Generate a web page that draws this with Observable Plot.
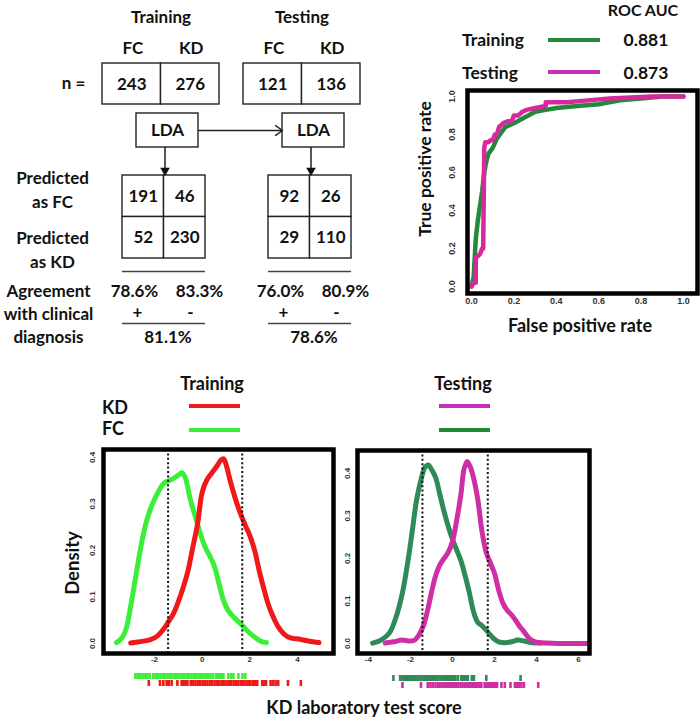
<!DOCTYPE html>
<html><head><meta charset="utf-8">
<script src="https://cdn.jsdelivr.net/npm/d3@7"></script>
<script src="https://cdn.jsdelivr.net/npm/@observablehq/plot@0.6"></script>
<style>
body{margin:0;background:#fff;}
#root{position:relative;width:700px;height:719px;overflow:hidden;font-family:Lato,"Open Sans",sans-serif;font-weight:700;color:#111;}
.t{position:absolute;transform:translate(-50%,-50%);white-space:nowrap;font-weight:700;line-height:1;}
.sw{position:absolute;height:4px;}
#root svg{position:absolute;background:transparent;max-width:none;overflow:visible;}
</style></head><body><div id="root"></div>
<script>
// ---------------- data ----------------
const sets = ["Training", "Testing"];
const classes = ["FC", "KD"];
const nCounts = [[243, 276], [121, 136]];
const confusion = [[[191, 46], [52, 230]], [[92, 26], [29, 110]]];
const agreement = [["78.6%", "83.3%"], ["76.0%", "80.9%"]];
const agreeSign = ["+", "-"];
const overall = ["81.1%", "78.6%"];
const rowLabels = [["Predicted", "as FC"], ["Predicted", "as KD"]];
const agreeLabel = ["Agreement", "with clinical", "diagnosis"];

const rocAUC = ["0.881", "0.873"];
const rocTrainFpr = [0,0.01,0.02,0.03,0.05,0.06,0.07,0.08,0.1,0.12,0.14,0.16,0.2,0.25,0.3,0.35,0.4,0.5,0.6,0.7,0.8,0.9,1.0];
const rocTrainTpr = [0,0.05,0.25,0.35,0.5,0.6,0.66,0.7,0.73,0.78,0.81,0.84,0.86,0.89,0.92,0.93,0.94,0.95,0.96,0.98,0.99,1.0,1.0];
const rocTestFpr = [0,0.01,0.02,0.02,0.04,0.05,0.055,0.06,0.065,0.08,0.09,0.1,0.11,0.12,0.13,0.14,0.15,0.17,0.19,0.2,0.22,0.24,0.26,0.3,0.35,0.35,0.45,0.55,0.65,0.75,0.85,1.0];
const rocTestTpr = [0,0.02,0.02,0.15,0.17,0.2,0.2,0.73,0.76,0.76,0.77,0.77,0.8,0.8,0.84,0.85,0.86,0.87,0.87,0.9,0.9,0.92,0.93,0.94,0.95,0.97,0.97,0.98,0.99,0.995,1.0,1.0];
const rocTicks = [0, 0.2, 0.4, 0.6, 0.8, 1.0];

const trainFCx = [-3.6,-3.4,-3.2,-3.0,-2.8,-2.6,-2.4,-2.2,-2.0,-1.8,-1.6,-1.4,-1.2,-1.0,-0.85,-0.7,-0.5,-0.3,-0.1,0.1,0.3,0.5,0.7,0.9,1.1,1.3,1.5,1.7,1.9,2.1,2.3,2.5,2.7];
const trainFCy = [0.002,0.01,0.03,0.08,0.14,0.2,0.25,0.285,0.31,0.33,0.345,0.35,0.355,0.362,0.367,0.355,0.31,0.275,0.24,0.21,0.19,0.168,0.13,0.092,0.07,0.058,0.048,0.038,0.027,0.018,0.01,0.004,0.002];
const trainKDx = [-3.0,-2.6,-2.2,-2.0,-1.8,-1.6,-1.4,-1.2,-1.0,-0.8,-0.6,-0.4,-0.2,0.0,0.2,0.4,0.6,0.8,0.9,1.0,1.2,1.4,1.6,1.8,2.0,2.2,2.4,2.6,2.8,3.0,3.2,3.4,3.6,3.8,4.0,4.2,4.5,4.9];
const trainKDy = [0.001,0.004,0.008,0.012,0.02,0.032,0.048,0.065,0.09,0.12,0.155,0.205,0.255,0.325,0.352,0.366,0.38,0.395,0.397,0.385,0.345,0.31,0.28,0.255,0.232,0.2,0.155,0.115,0.08,0.055,0.035,0.022,0.014,0.011,0.01,0.008,0.005,0.002];
const testFCx = [-3.8,-3.4,-3.0,-2.7,-2.4,-2.1,-1.9,-1.7,-1.5,-1.3,-1.15,-1.0,-0.8,-0.6,-0.4,-0.2,0.0,0.2,0.4,0.6,0.8,1.0,1.2,1.4,1.6,1.8,2.0,2.2,2.5,2.8,3.1,3.4,3.8,4.2];
const testFCy = [0.001,0.008,0.025,0.06,0.115,0.2,0.27,0.34,0.385,0.415,0.42,0.41,0.39,0.35,0.31,0.275,0.245,0.22,0.195,0.16,0.12,0.075,0.05,0.042,0.032,0.02,0.01,0.004,0.002,0.004,0.008,0.006,0.002,0.001];
const testKDx = [-3.2,-2.8,-2.4,-2.1,-1.8,-1.6,-1.4,-1.2,-1.0,-0.8,-0.6,-0.4,-0.2,0.0,0.2,0.4,0.55,0.7,0.85,1.0,1.2,1.4,1.6,1.8,2.0,2.2,2.4,2.6,2.8,3.0,3.2,3.4,3.6,3.8,4.0,4.5,5.0,6.5];
const testKDy = [0.001,0.004,0.008,0.006,0.008,0.02,0.04,0.075,0.12,0.16,0.185,0.2,0.215,0.24,0.29,0.35,0.41,0.428,0.415,0.39,0.34,0.265,0.215,0.19,0.165,0.125,0.095,0.078,0.068,0.055,0.04,0.028,0.015,0.007,0.003,0.001,0,0];

const cutoffs = [-1.43, 1.68];
const trainXTicks = [-2, 0, 2, 4];
const testXTicks = [-4, -2, 0, 2, 4, 6];
const densYTicks = [0, 0.1, 0.2, 0.3, 0.4];

const trainFCRug = [-2.8,-2.7,-2.6,-2.5,-2.4,-2.3,-2.2,-2.05,-1.95,-1.85,-1.75,-1.65,-1.55,-1.45,-1.35,-1.25,-1.15,-1.05,-0.95,-0.85,-0.75,-0.65,-0.55,-0.45,-0.35,-0.25,-0.15,-0.05,0.05,0.15,0.25,0.35,0.45,0.58,0.66,0.74,0.82,0.89,1.1,1.22,1.31,1.52,1.69,1.81];
const trainKDRug = [-2.24,-1.77,-1.63,-1.49,-1.4,-1.28,-1.04,-0.86,-0.78,-0.7,-0.62,-0.48,-0.38,-0.28,-0.18,-0.08,0.02,0.12,0.22,0.32,0.42,0.52,0.62,0.72,0.82,0.92,1.02,1.12,1.22,1.32,1.42,1.52,1.62,1.72,1.82,1.92,2.02,2.12,2.22,2.31,2.52,2.6,2.68,2.87,2.97,3.08,3.19,3.6,4.14];
const testFCRug = [-2.81,-2.49,-2.38,-2.3,-2.22,-2.14,-2.06,-1.98,-1.87,-1.77,-1.67,-1.57,-1.47,-1.37,-1.27,-1.17,-1.07,-0.97,-0.87,-0.77,-0.67,-0.57,-0.47,-0.37,-0.27,-0.17,-0.07,0.03,0.13,0.25,0.41,0.49,0.57,0.65,0.73,0.92,1.02,1.61,3.24];
const testKDRug = [-2.38,-1.5,-1.18,-1.05,-0.94,-0.81,-0.7,-0.62,-0.52,-0.42,-0.32,-0.22,-0.12,-0.02,0.08,0.18,0.28,0.38,0.48,0.58,0.68,0.78,0.88,0.98,1.08,1.18,1.28,1.37,1.53,1.61,1.69,1.77,1.85,1.93,2.01,2.12,2.33,2.49,2.76,2.97,3.08,3.18,3.28,3.4,4.08];

// ---------------- styles ----------------
const C = {
  rocTrain: "#22893a", rocTest: "#d8299c",
  trainFC: "#3aee3a", trainKD: "#f01818",
  testFC: "#2e8b57", testKD: "#cf2fa4",
  legTestKD: "#c231b8", legTestFC: "#1f8a32"
};
const FONT = "Lato, 'Open Sans', sans-serif";
const TICKFONT = "'Liberation Sans', Arial, sans-serif";
const root = document.getElementById("root");
function put(node, left, top) { node.style.left = left + "px"; node.style.top = top + "px"; root.appendChild(node); return node; }
function label(text, x, y, size, opt = {}) {
  const d = document.createElement("div");
  d.className = "t"; d.textContent = text; d.style.fontSize = size + "px";
  if (opt.rotate) d.style.transform = `translate(-50%,-50%) rotate(${opt.rotate}deg)`;
  if (opt.left) d.style.transform = "translate(0,-50%)";
  put(d, x, y);
}
function swatch(color, x1, x2, y) {
  const d = document.createElement("div"); d.className = "sw";
  d.style.background = color; d.style.width = (x2 - x1) + "px";
  put(d, x1, y - 2);
}
const zip = (xs, ys) => xs.map((x, i) => ({x, y: ys[i]}));

// ---------------- diagram (layout in pixels) ----------------
const L = {
  Training: {n: 102, m: 122, lda: 136},
  Testing: {n: 243, m: 268, lda: 282}
};
const nW = 58.5, mW = 41.5, ldaW = 62;
const rects = [], texts = [], hrules = [], downArrows = [];
const rowLabelY = [[178, 202], [238, 262]];
sets.forEach((s, si) => {
  const c = L[s];
  texts.push({x: c.n + nW, y: 17, t: s});
  classes.forEach((k, j) => {
    texts.push({x: c.n + nW * (j + 0.5) + 1, y: 48, t: k});
    rects.push({x1: c.n + j * nW, x2: c.n + (j + 1) * nW, y1: 63, y2: 104});
    texts.push({x: c.n + nW * (j + 0.5), y: 84, t: String(nCounts[si][j])});
  });
  rects.push({x1: c.lda, x2: c.lda + ldaW, y1: 113, y2: 147});
  texts.push({x: c.lda + ldaW / 2, y: 130, t: "LDA"});
  downArrows.push({x: c.m + mW + 1, y1: 147, y2: 170});
  confusion[si].forEach((row, i) => row.forEach((v, j) => {
    rects.push({x1: c.m + j * mW, x2: c.m + (j + 1) * mW, y1: 175 + i * mW, y2: 175 + (i + 1) * mW});
    texts.push({x: c.m + mW * (j + 0.5), y: 196 + i * mW, t: String(v)});
  }));
  hrules.push({x1: c.m, x2: c.m + 2 * mW, y: 271});
  hrules.push({x1: c.m, x2: c.m + 2 * mW, y: 323});
  agreement[si].forEach((a, j) => {
    texts.push({x: c.m + (j === 0 ? 12 : 77), y: 291, t: a});
    texts.push({x: c.m + (j === 0 ? 15 : 68), y: 312, t: agreeSign[j]});
  });
  texts.push({x: c.m + mW + 4, y: 337, t: overall[si]});
});
rowLabels.forEach((pair, i) => pair.forEach((t, k) => texts.push({x: 52, y: rowLabelY[i][k], t})));
agreeLabel.forEach((t, k) => texts.push({x: 48, y: 291 + k * 23, t}));
texts.push({x: 73, y: 83, t: "n ="});

const diagram = Plot.plot({
  width: 390, height: 350, margin: 0,
  x: {type: "identity", axis: null}, y: {type: "identity", axis: null},
  marks: [
    Plot.rect(rects, {x1: "x1", x2: "x2", y1: "y1", y2: "y2", fill: "white", stroke: "#222", strokeWidth: 1.4}),
    Plot.ruleY(hrules, {x1: "x1", x2: "x2", y: "y", stroke: "#444", strokeWidth: 1.4}),
    Plot.arrow([{a: L.Training.lda + ldaW, b: L.Testing.lda}], {x1: "a", x2: "b", y1: () => 130, y2: () => 130, stroke: "#222", strokeWidth: 1.4, headLength: 9, headAngle: 70}),
    Plot.ruleX(downArrows, {x: "x", y1: "y1", y2: "y2", stroke: "#111", strokeWidth: 1.4}),
    Plot.dot(downArrows, {x: "x", y: "y2", symbol: "triangle", rotate: 180, r: 3.6, fill: "#111"}),
    Plot.text(texts, {x: "x", y: "y", text: "t", fontSize: 17, fontWeight: "bold", fontFamily: FONT, fill: "#111"})
  ]
});
put(diagram, 0, 0);

// ---------------- ROC ----------------
const roc = Plot.plot({
  width: 300, height: 260,
  marginTop: 10, marginBottom: 47, marginLeft: 67, marginRight: 3,
  x: {domain: [-0.019, 1.066], axis: null},
  y: {domain: [-0.037, 1.032], axis: null},
  marks: [
    Plot.line(zip(rocTrainFpr, rocTrainTpr), {x: "x", y: "y", stroke: C.rocTrain, strokeWidth: 4.5}),
    Plot.line(zip(rocTestFpr, rocTestTpr), {x: "x", y: "y", stroke: C.rocTest, strokeWidth: 4.5}),
    Plot.frame({stroke: "black", strokeWidth: 4.5}),
    Plot.text(rocTicks, {x: d => d, text: d3.format(".1f"), frameAnchor: "bottom", dy: 10, fontSize: 9, fontFamily: TICKFONT, fill: "#333"}),
    Plot.text(rocTicks, {y: d => d, text: d3.format(".1f"), frameAnchor: "left", dx: -15, rotate: -90, textAnchor: "middle", fontSize: 9, fontFamily: TICKFONT, fill: "#333"})
  ]
});
put(roc, 400, 80);
label("ROC AUC", 643, 10, 16);
label(sets[0], 493, 40, 17.5);
label(sets[1], 490, 73, 17.5);
swatch(C.rocTrain, 548, 600, 40);
swatch(C.legTestKD, 548, 600, 72);
label(rocAUC[0], 646, 40, 17.5);
label(rocAUC[1], 646, 73, 17.5);
label("True positive rate", 425, 169, 17.5, {rotate: -90});
label("False positive rate", 580, 325, 18);

// ---------------- densities ----------------
function density(opts) {
  return Plot.plot({
    width: opts.width, height: 260,
    marginTop: opts.mt, marginBottom: 47, marginLeft: opts.ml, marginRight: opts.mr,
    x: {domain: opts.xd, axis: null},
    y: {domain: opts.yd, axis: null},
    marks: [
      Plot.line(opts.a, {x: "x", y: "y", stroke: opts.ca, strokeWidth: 5, curve: "catmull-rom", strokeLinecap: "round"}),
      Plot.line(opts.b, {x: "x", y: "y", stroke: opts.cb, strokeWidth: 5, curve: "catmull-rom", strokeLinecap: "round"}),
      Plot.ruleX(cutoffs, {stroke: "#111", strokeWidth: 2, strokeDasharray: "2,2.4"}),
      Plot.frame({stroke: "black", strokeWidth: 4.5}),
      Plot.text(opts.xt, {x: d => d, text: d => String(d), frameAnchor: "bottom", dy: 8, fontSize: 8, fontFamily: TICKFONT, fill: "#333"}),
      Plot.text(densYTicks, {y: d => d, text: d3.format(".1f"), frameAnchor: "left", dx: opts.ydx, rotate: -90, textAnchor: "middle", fontSize: 8, fontFamily: TICKFONT, fill: "#333"})
    ]
  });
}
function rug(opts) {
  const data = [...opts.a.map(v => ({v, g: classes[0]})), ...opts.b.map(v => ({v, g: classes[1]}))];
  return Plot.plot({
    width: opts.width, height: 19,
    marginTop: 2, marginBottom: 2, marginLeft: opts.ml, marginRight: opts.mr,
    x: {domain: opts.xd, axis: null},
    y: {domain: classes, axis: null, padding: 0.1},
    marks: [
      Plot.tickX(data, {x: "v", y: "g", stroke: d => d.g === classes[0] ? opts.ca : opts.cb, strokeWidth: 2.6})
    ]
  });
}
const trainXD = [-4.14, 5.51], testXD = [-4.52, 6.52];
put(density({width: 280, mt: 9, ml: 43, mr: 7, xd: trainXD, yd: [-0.0215, 0.417],
  a: zip(trainFCx, trainFCy), b: zip(trainKDx, trainKDy), ca: C.trainFC, cb: C.trainKD, xt: trainXTicks, ydx: -11}), 60, 440);
put(density({width: 270, mt: 10, ml: 27, mr: 11, xd: testXD, yd: [-0.0235, 0.454],
  a: zip(testFCx, testFCy), b: zip(testKDx, testKDy), ca: C.testFC, cb: C.testKD, xt: testXTicks, ydx: -10}), 330, 440);
put(rug({width: 280, ml: 43, mr: 7, xd: trainXD, a: trainFCRug, b: trainKDRug, ca: C.trainFC, cb: C.trainKD}), 60, 670);
put(rug({width: 270, ml: 27, mr: 11, xd: testXD, a: testFCRug, b: testKDRug, ca: C.testFC, cb: C.testKD}), 330, 672);

label(sets[0], 212, 383, 18);
label(sets[1], 463, 383, 18);
label(classes[1], 102, 407, 18, {left: true});
label(classes[0], 102, 428, 18, {left: true});
swatch(C.trainKD, 189, 240, 406);
swatch(C.trainFC, 189, 240, 430);
swatch(C.legTestKD, 439, 490, 406);
swatch(C.legTestFC, 439, 490, 430);
label("Density", 72, 563, 18.5, {rotate: -90});
label("KD laboratory test score", 364, 707, 18);
</script></body></html>
